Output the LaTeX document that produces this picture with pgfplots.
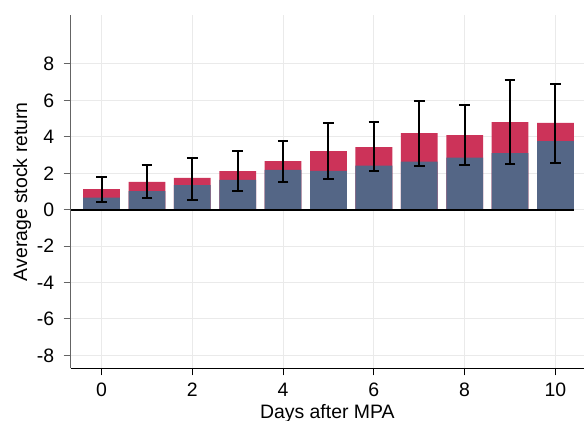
\documentclass[border=0pt]{standalone}
\usepackage{pgfplots}
\pgfplotsset{compat=1.18}
\usepackage{fontspec}
\setmainfont{Liberation Sans}
\definecolor{barred}{RGB}{204,51,89}
\definecolor{barblue}{RGB}{84,102,134}
\definecolor{gridgrey}{RGB}{234,234,234}
\definecolor{axgrey}{RGB}{100,100,100}
\begin{document}
\begin{tikzpicture}
\useasboundingbox (-70.7bp,-52.7bp) rectangle (513.3bp,368.3bp);
\begin{axis}[
  at={(0,0)}, anchor=south west,
  scale only axis, width=513.3bp, height=353.3bp,
  xmin=-0.68, xmax=10.63, ymin=-8.71, ymax=10.69,
  axis x line*=bottom, axis y line*=left,
  x axis line style={black, line width=1bp},
  y axis line style={axgrey, line width=1.5bp},
  xtick={0,2,...,10}, ytick={-8,-6,...,8},
  tick align=outside, major tick length=7bp,
  xtick style={black, line width=1bp},
  ytick style={axgrey, line width=1bp},
  grid=major, major grid style={gridgrey, line width=1bp},
  /pgf/number format/assume math mode=true,
  ticklabel style={font=\fontsize{19.5}{23}\selectfont},
  label style={font=\fontsize{19.5}{23}\selectfont},
  xticklabel style={anchor=base, yshift=-20.7bp},
  yticklabel style={anchor=east, xshift=-6bp},
  xlabel={Days after MPA}, ylabel={Average stock return},
  xlabel style={at={(axis description cs:0.5,-0.1407)}, anchor=base},
  ylabel style={at={(axis description cs:-0.0851,0.5)}, anchor=base},
  bar width=0.81,
]
\addplot[ybar, bar shift=0pt, fill=barred, draw=none] coordinates {
 (0,1.13) (1,1.52) (2,1.74) (3,2.12) (4,2.67) (5,3.22)
 (6,3.44) (7,4.21) (8,4.10) (9,4.81) (10,4.76)};
\addplot[ybar, bar shift=0pt, fill=barblue, draw=none] coordinates {
 (0,0.66) (1,1.02) (2,1.35) (3,1.64) (4,2.19) (5,2.13)
 (6,2.42) (7,2.64) (8,2.86) (9,3.11) (10,3.77)};
\addplot[black, line width=2bp] coordinates {(-0.68,0) (10.4,0)};
\addplot[draw=none, mark=none,
  error bars/.cd, y dir=both, y explicit,
  error bar style={draw=black, line width=2bp},
  error mark options={draw=black, line width=2bp, mark size=5.35bp, rotate=90}]
 coordinates {
 (0,1.13) +=(0,0.66) -=(0,0.69)
 (1,1.52) +=(0,0.93) -=(0,0.90)
 (2,1.74) +=(0,1.11) -=(0,1.19)
 (3,2.12) +=(0,1.10) -=(0,1.10)
 (4,2.67) +=(0,1.11) -=(0,1.17)
 (5,3.22) +=(0,1.55) -=(0,1.55)
 (6,3.44) +=(0,1.35) -=(0,1.30)
 (7,4.21) +=(0,1.75) -=(0,1.81)
 (8,4.10) +=(0,1.66) -=(0,1.66)
 (9,4.81) +=(0,2.30) -=(0,2.30)
 (10,4.76) +=(0,2.14) -=(0,2.20)
 };
\end{axis}
\end{tikzpicture}
\end{document}
